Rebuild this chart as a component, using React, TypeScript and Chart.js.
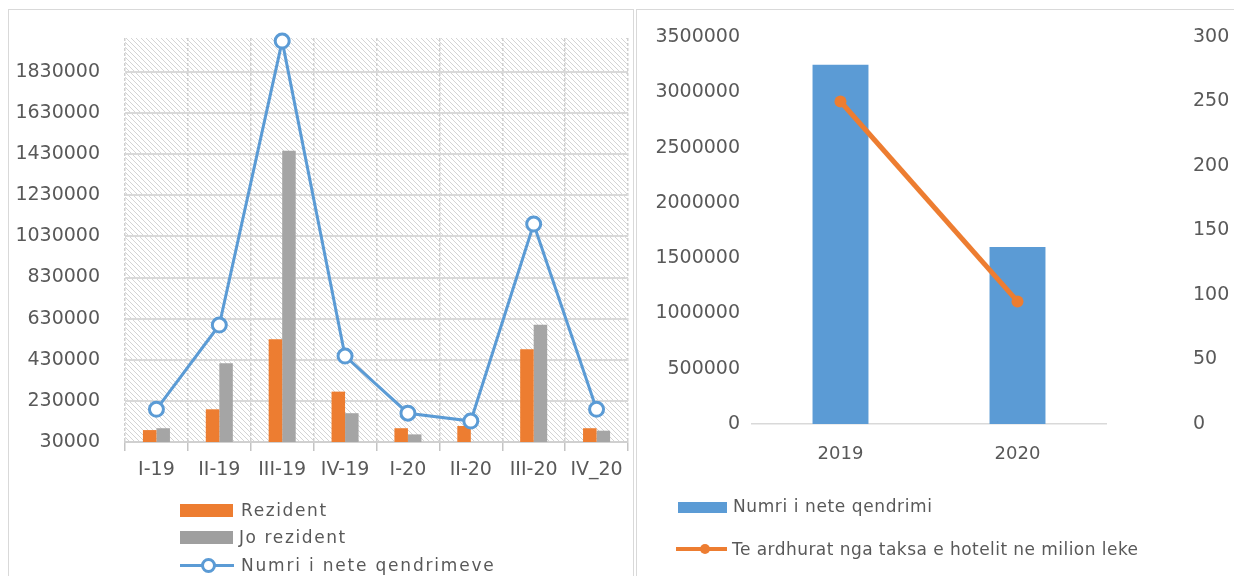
import React, { useEffect, useRef } from "react";
import { Chart, registerables } from "chart.js";

Chart.register(...registerables);

// ---------- Left chart data ----------
const quarters = ["I-19", "II-19", "III-19", "IV-19", "I-20", "II-20", "III-20", "IV_20"];
const rezident = [88000, 189000, 530000, 275000, 97000, 108000, 481000, 97000];
const joRezident = [97000, 413000, 1447000, 170000, 67000, 30000, 600000, 85000];
const neteQendrimeve = [189000, 599000, 1980000, 448000, 170000, 132000, 1090000, 189000];
const leftTickValues = [30000, 230000, 430000, 630000, 830000, 1030000, 1230000, 1430000, 1630000, 1830000];
const leftAxisMin = 30000;
const leftAxisMax = 1995000;

// ---------- Right chart data ----------
const years = ["2019", "2020"];
const neteQendrimi = [3250000, 1600000];
const teArdhurat = [250, 95];
const rightLeftMax = 3500000;
const rightLeftStep = 500000;
const rightRightMax = 300;
const rightRightStep = 50;

const BLUE = "#5B9BD5";
const ORANGE = "#ED7D31";
const GRAY = "#A5A5A5";
const TEXT = "#595959";
const FONT = "'DejaVu Sans', sans-serif";

const plain = (v: any) => String(v);

function makeHatch(): CanvasPattern | string {
  const s = 5;
  const c = document.createElement("canvas");
  c.width = s;
  c.height = s;
  const g = c.getContext("2d");
  if (!g) return "#fff";
  g.fillStyle = "#ffffff";
  g.fillRect(0, 0, s, s);
  g.strokeStyle = "#d4d4d4";
  g.lineWidth = 1;
  g.beginPath();
  g.moveTo(-1, -1);
  g.lineTo(s + 1, s + 1);
  g.moveTo(-1, s - 1);
  g.lineTo(1, s + 1);
  g.moveTo(s - 1, -1);
  g.lineTo(s + 1, 1);
  g.stroke();
  const p = g.createPattern(c, "repeat");
  return p || "#fff";
}

const hatchPlugin = {
  id: "hatchBg",
  beforeDraw(chart: any) {
    const { ctx, chartArea } = chart;
    if (!chartArea) return;
    ctx.save();
    ctx.fillStyle = makeHatch();
    ctx.fillRect(chartArea.left, chartArea.top, chartArea.right - chartArea.left, chartArea.bottom - chartArea.top);
    ctx.restore();
  },
};

const fixV = (w: number) => (s: any) => {
  s.width = w;
  s.paddingTop = 0;
  s.paddingBottom = 0;
};
const fixH = (h: number) => (s: any) => {
  s.height = h;
  s.paddingLeft = 0;
  s.paddingRight = 0;
};

function LeftChart() {
  const ref = useRef<HTMLCanvasElement>(null);
  useEffect(() => {
    if (!ref.current) return;
    const chart = new Chart(ref.current, {
      type: "bar",
      data: {
        labels: quarters,
        datasets: [
          {
            type: "line",
            label: "Numri i nete qendrimeve",
            data: neteQendrimeve,
            borderColor: BLUE,
            borderWidth: 3,
            pointRadius: 7,
            pointBorderWidth: 3,
            pointBackgroundColor: "#ffffff",
            pointBorderColor: BLUE,
            order: 0,
            clip: false,
          } as any,
          {
            label: "Rezident",
            data: rezident,
            backgroundColor: ORANGE,
            categoryPercentage: 0.43,
            barPercentage: 1,
            order: 1,
          },
          {
            label: "Jo rezident",
            data: joRezident,
            backgroundColor: GRAY,
            categoryPercentage: 0.43,
            barPercentage: 1,
            order: 1,
          },
        ],
      },
      options: {
        responsive: false,
        animation: false,
        devicePixelRatio: 1,
        layout: { autoPadding: false, padding: { top: 28, right: 5, left: 0, bottom: 0 } } as any,
        plugins: { legend: { display: false }, tooltip: { enabled: false } },
        scales: {
          x: {
            offset: true,
            grid: {
              offset: true,
              color: "#cfcfcf",
              lineWidth: 1.5,
              tickLength: 9,
              tickColor: "#c4c4c4",
              tickBorderDash: [],
              tickWidth: 1.5,
            } as any,
            border: { color: "#d0d0d0", width: 2, dash: [3, 2] } as any,
            ticks: { color: TEXT, font: { family: FONT, size: 19 }, padding: 8 },
            afterFit: fixH(134),
          },
          y: {
            min: leftAxisMin,
            max: leftAxisMax,
            afterBuildTicks: (axis: any) => {
              axis.ticks = leftTickValues.map((v) => ({ value: v }));
            },
            grid: { color: "#d9d9d9", lineWidth: 2, drawTicks: false },
            border: { display: false },
            ticks: { color: TEXT, font: { family: FONT, size: 19 }, padding: 25, callback: plain },
            afterFit: fixV(117),
          },
        },
      },
      plugins: [hatchPlugin],
    });
    return () => chart.destroy();
  }, []);
  return <canvas ref={ref} width={625} height={566} style={{ position: "absolute", left: 8, top: 10 }} />;
}

function RightChart() {
  const ref = useRef<HTMLCanvasElement>(null);
  useEffect(() => {
    if (!ref.current) return;
    const chart = new Chart(ref.current, {
      type: "bar",
      data: {
        labels: years,
        datasets: [
          {
            type: "line",
            label: "Te ardhurat nga taksa e hotelit ne milion leke",
            data: teArdhurat,
            yAxisID: "y1",
            borderColor: ORANGE,
            borderWidth: 5,
            pointRadius: 6,
            pointBorderWidth: 0,
            pointBackgroundColor: ORANGE,
            order: 0,
            clip: false,
          } as any,
          {
            label: "Numri i nete qendrimi",
            data: neteQendrimi,
            yAxisID: "y",
            backgroundColor: BLUE,
            categoryPercentage: 1,
            barPercentage: 0.316,
            order: 1,
          },
        ],
      },
      options: {
        responsive: false,
        animation: false,
        devicePixelRatio: 1,
        layout: { autoPadding: false, padding: { top: 27, right: 0, left: 0, bottom: 0 } } as any,
        plugins: { legend: { display: false }, tooltip: { enabled: false } },
        scales: {
          x: {
            grid: { display: false, drawTicks: false },
            border: { color: "#d9d9d9", width: 1.5 },
            ticks: { color: TEXT, font: { family: FONT, size: 18 }, padding: 20 },
            afterFit: fixH(152),
          },
          y: {
            position: "left",
            min: 0,
            max: rightLeftMax,
            ticks: {
              stepSize: rightLeftStep,
              color: TEXT,
              font: { family: FONT, size: 19 },
              padding: 12,
              callback: plain,
            },
            grid: { display: false, drawTicks: false },
            border: { display: false },
            afterFit: fixV(116),
          },
          y1: {
            position: "right",
            min: 0,
            max: rightRightMax,
            ticks: {
              stepSize: rightRightStep,
              color: TEXT,
              font: { family: FONT, size: 19 },
              padding: 87,
              callback: plain,
            },
            grid: { display: false, drawTicks: false },
            border: { display: false },
            afterFit: fixV(128),
          },
        },
      },
    });
    return () => chart.destroy();
  }, []);
  return <canvas ref={ref} width={598} height={566} style={{ position: "absolute", left: 636, top: 10 }} />;
}

const legendText: React.CSSProperties = {
  position: "absolute",
  fontFamily: FONT,
  color: TEXT,
  whiteSpace: "nowrap",
  lineHeight: "20px",
};

export default function App() {
  return (
    <div
      style={{
        position: "fixed",
        left: 0,
        top: 0,
        width: 1234,
        height: 576,
        overflow: "hidden",
        background: "#ffffff",
      }}
    >
      <div style={{ position: "absolute", left: 8, top: 9, width: 624, height: 640, border: "1px solid #d9d9d9" }} />
      <div style={{ position: "absolute", left: 636, top: 9, width: 640, height: 640, border: "1px solid #d9d9d9" }} />
      <LeftChart />
      <RightChart />

      {/* Left legend */}
      <div style={{ position: "absolute", left: 180, top: 504, width: 53, height: 13, background: ORANGE }} />
      <div style={{ ...legendText, left: 241, top: 500, fontSize: 17, letterSpacing: 1.6 }}>Rezident</div>
      <div style={{ position: "absolute", left: 180, top: 531, width: 53, height: 13, background: "#9f9f9f" }} />
      <div style={{ ...legendText, left: 239, top: 527, fontSize: 17, letterSpacing: 1.6 }}>Jo rezident</div>
      <div style={{ position: "absolute", left: 180, top: 564, width: 54, height: 3, background: BLUE }} />
      <div
        style={{
          position: "absolute",
          left: 201,
          top: 558,
          width: 9,
          height: 9,
          borderRadius: "50%",
          border: `3px solid ${BLUE}`,
          background: "#fff",
        }}
      />
      <div style={{ ...legendText, left: 241, top: 555, fontSize: 17, letterSpacing: 1.8 }}>Numri i nete qendrimeve</div>

      {/* Right legend */}
      <div style={{ position: "absolute", left: 678, top: 502, width: 49, height: 11, background: BLUE }} />
      <div style={{ ...legendText, left: 733, top: 496, fontSize: 17, letterSpacing: 0.6 }}>Numri i nete qendrimi</div>
      <div style={{ position: "absolute", left: 676, top: 547, width: 51, height: 4, background: ORANGE }} />
      <div
        style={{
          position: "absolute",
          left: 700,
          top: 544,
          width: 10,
          height: 10,
          borderRadius: "50%",
          background: ORANGE,
        }}
      />
      <div style={{ ...legendText, left: 732, top: 539, fontSize: 17, letterSpacing: 0.45 }}>
        Te ardhurat nga taksa e hotelit ne milion leke
      </div>
    </div>
  );
}
